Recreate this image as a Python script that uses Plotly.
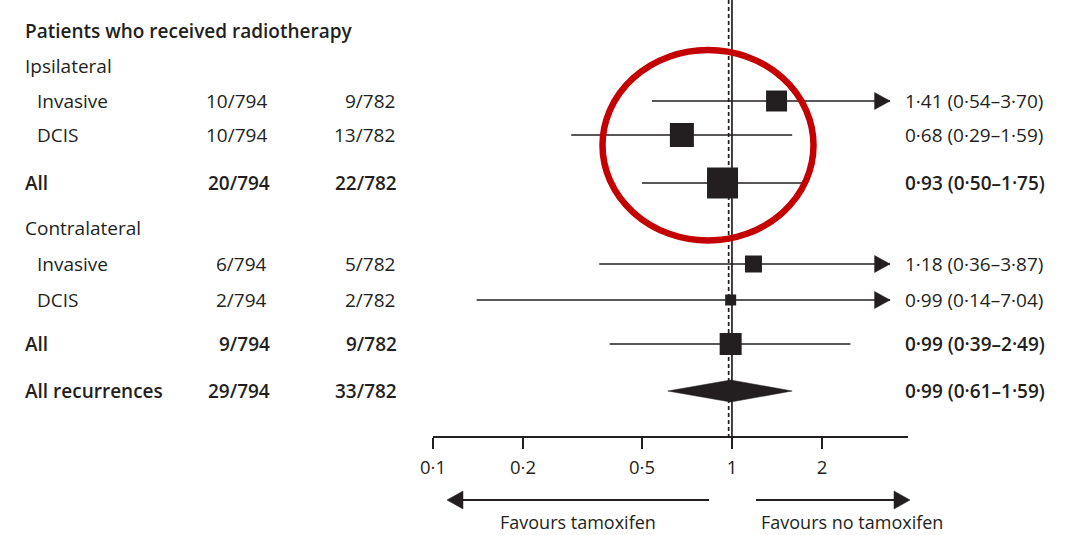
import math
import plotly.graph_objects as go

W, H = 1077, 535

# ---- data -------------------------------------------------------------
title_text = "Patients who received radiotherapy"
section_titles = ["Ipsilateral", "Contralateral"]
row_labels = ["Invasive", "DCIS", "All", "Invasive", "DCIS", "All", "All recurrences"]
tamoxifen_events = [10, 10, 20, 6, 2, 9, 29]
tamoxifen_total = 794
control_events = [9, 13, 22, 5, 2, 9, 33]
control_total = 782
hazard_ratio = [1.41, 0.68, 0.93, 1.18, 0.99, 0.99, 0.99]
ci_low = [0.54, 0.29, 0.50, 0.36, 0.14, 0.39, 0.61]
ci_high = [3.70, 1.59, 1.75, 3.87, 7.04, 2.49, 1.59]
is_summary = [False, False, True, False, False, True, True]
tick_values = [0.1, 0.2, 0.5, 1, 2]
tick_labels = ["0·1", "0·2", "0·5", "1", "2"]
pooled_line_hr = 0.975
favour_labels = ["Favours tamoxifen", "Favours no tamoxifen"]

# ---- layout constants (pixels) ---------------------------------------
row_y = [101, 135, 183, 264, 300, 344, 391]
section_y = [66, 228]
title_y = 31
square_size = [21, 24, 31, 17, 11, 22]
diamond_half_h = 11
axis_left_px, axis_right_px = 433, 908
axis_y_px = 437
axis_min, axis_max = 0.1, 3.88
arrow_clip = 3.38          # CIs beyond this end in an arrowhead
px_per_decade = (axis_right_px - axis_left_px) / (math.log10(axis_max) - math.log10(axis_min))
ink = "#231f20"
red = "#c40000"
font_family = "Open Sans, Noto Sans, DejaVu Sans, sans-serif"
pad = 2                    # annotation box padding


def fmt(v):
    return f"{v:.2f}".replace(".", "·")


fig = go.Figure()

# reference line at HR = 1 and dashed pooled line
fig.add_trace(go.Scatter(x=[1, 1], y=[0, axis_y_px], mode="lines",
                         line=dict(color=ink, width=1.7), hoverinfo="skip"))
fig.add_trace(go.Scatter(x=[pooled_line_hr, pooled_line_hr], y=[0, axis_y_px], mode="lines",
                         line=dict(color=ink, width=1.7, dash="4px,3px"), hoverinfo="skip"))

# confidence-interval whiskers
lx, ly = [], []
hx, hy = [], []
head_len = 10 ** (-15.5 / px_per_decade)
for i, y in enumerate(row_y[:-1]):
    hi = min(ci_high[i], arrow_clip)
    lx += [ci_low[i], hi, None]
    ly += [y, y, None]
    if ci_high[i] > arrow_clip:
        hx += [arrow_clip * head_len, arrow_clip, arrow_clip * head_len, arrow_clip * head_len, None]
        hy += [y - 8.5, y, y + 8.5, y - 8.5, None]
fig.add_trace(go.Scatter(x=lx, y=ly, mode="lines", line=dict(color=ink, width=1.6),
                         hoverinfo="skip"))
fig.add_trace(go.Scatter(x=hx, y=hy, mode="lines", fill="toself", fillcolor=ink,
                         line=dict(color=ink, width=0.5), hoverinfo="skip"))

# point estimates
fig.add_trace(go.Scatter(x=hazard_ratio[:-1], y=row_y[:-1], mode="markers",
                         marker=dict(symbol="square", size=square_size, color=ink,
                                     opacity=1, line=dict(width=0)),
                         hoverinfo="skip"))

# pooled diamond
yd = row_y[-1]
fig.add_trace(go.Scatter(
    x=[ci_low[-1], hazard_ratio[-1], ci_high[-1], hazard_ratio[-1], ci_low[-1]],
    y=[yd, yd - diamond_half_h, yd, yd + diamond_half_h, yd],
    mode="lines", fill="toself", fillcolor=ink, line=dict(color=ink, width=0.5),
    hoverinfo="skip"))

# ---- text --------------------------------------------------------------
ann = []


def add_text(x_px, y_px, text, anchor="left", bold=False, size=19):
    shift = {"left": -pad, "right": pad, "center": 0}[anchor]
    ann.append(dict(x=(x_px + shift) / W, xref="paper", y=y_px, yref="y", text=text,
                    showarrow=False, xanchor=anchor, yanchor="middle",
                    font=dict(family=font_family, size=size, color=ink,
                              weight=600 if bold else 400)))


add_text(25, title_y, title_text, bold=True)
for t, y in zip(section_titles, section_y):
    add_text(25, y, t)
for i, y in enumerate(row_y):
    b = is_summary[i]
    add_text(25 if b else 37, y, row_labels[i], bold=b)
    add_text(270 if b else 267, y, f"{tamoxifen_events[i]}/{tamoxifen_total}", "right", b)
    add_text(397 if b else 395, y, f"{control_events[i]}/{control_total}", "right", b)
    add_text(905, y, f"{fmt(hazard_ratio[i])} ({fmt(ci_low[i])}–{fmt(ci_high[i])})", "left", b)

add_text(578, 522, favour_labels[0], "center", size=18)
add_text(852, 522, favour_labels[1], "center", size=18)

# ---- shapes: highlight ring and direction arrows ----------------------
shapes = [
    dict(type="circle", xref="paper", yref="y", x0=602.5 / W, x1=813.5 / W,
         y0=50, y1=240.5, line=dict(color=red, width=6.5), layer="above"),
    dict(type="line", xref="paper", yref="y", x0=460 / W, x1=709 / W, y0=500, y1=500,
         line=dict(color=ink, width=2)),
    dict(type="path", xref="paper", yref="y",
         path=f"M{447 / W},500 L{463 / W},491 L{463 / W},509 Z",
         fillcolor=ink, line=dict(color=ink, width=0.5)),
    dict(type="line", xref="paper", yref="y", x0=756 / W, x1=897 / W, y0=500, y1=500,
         line=dict(color=ink, width=2)),
    dict(type="path", xref="paper", yref="y",
         path=f"M{910 / W},500 L{894 / W},491 L{894 / W},509 Z",
         fillcolor=ink, line=dict(color=ink, width=0.5)),
]

fig.update_layout(
    width=W, height=H,
    margin=dict(l=0, r=0, t=0, b=0, autoexpand=False),
    paper_bgcolor="white", plot_bgcolor="white",
    showlegend=False,
    annotations=ann,
    shapes=shapes,
    xaxis=dict(type="log", domain=[axis_left_px / W, axis_right_px / W],
               range=[math.log10(axis_min), math.log10(axis_max)],
               anchor="free", position=1 - axis_y_px / H, automargin=False,
               showline=True, linecolor=ink, linewidth=1.6,
               ticks="outside", ticklen=11, tickwidth=1.6, tickcolor=ink,
               ticklabelstandoff=3,
               tickvals=tick_values, ticktext=tick_labels,
               tickfont=dict(family=font_family, size=18.5, color=ink),
               showgrid=False, zeroline=False, fixedrange=True),
    yaxis=dict(range=[H, 0], domain=[0, 1], visible=False, fixedrange=True,
               automargin=False),
)

fig.write_html("out.html")
